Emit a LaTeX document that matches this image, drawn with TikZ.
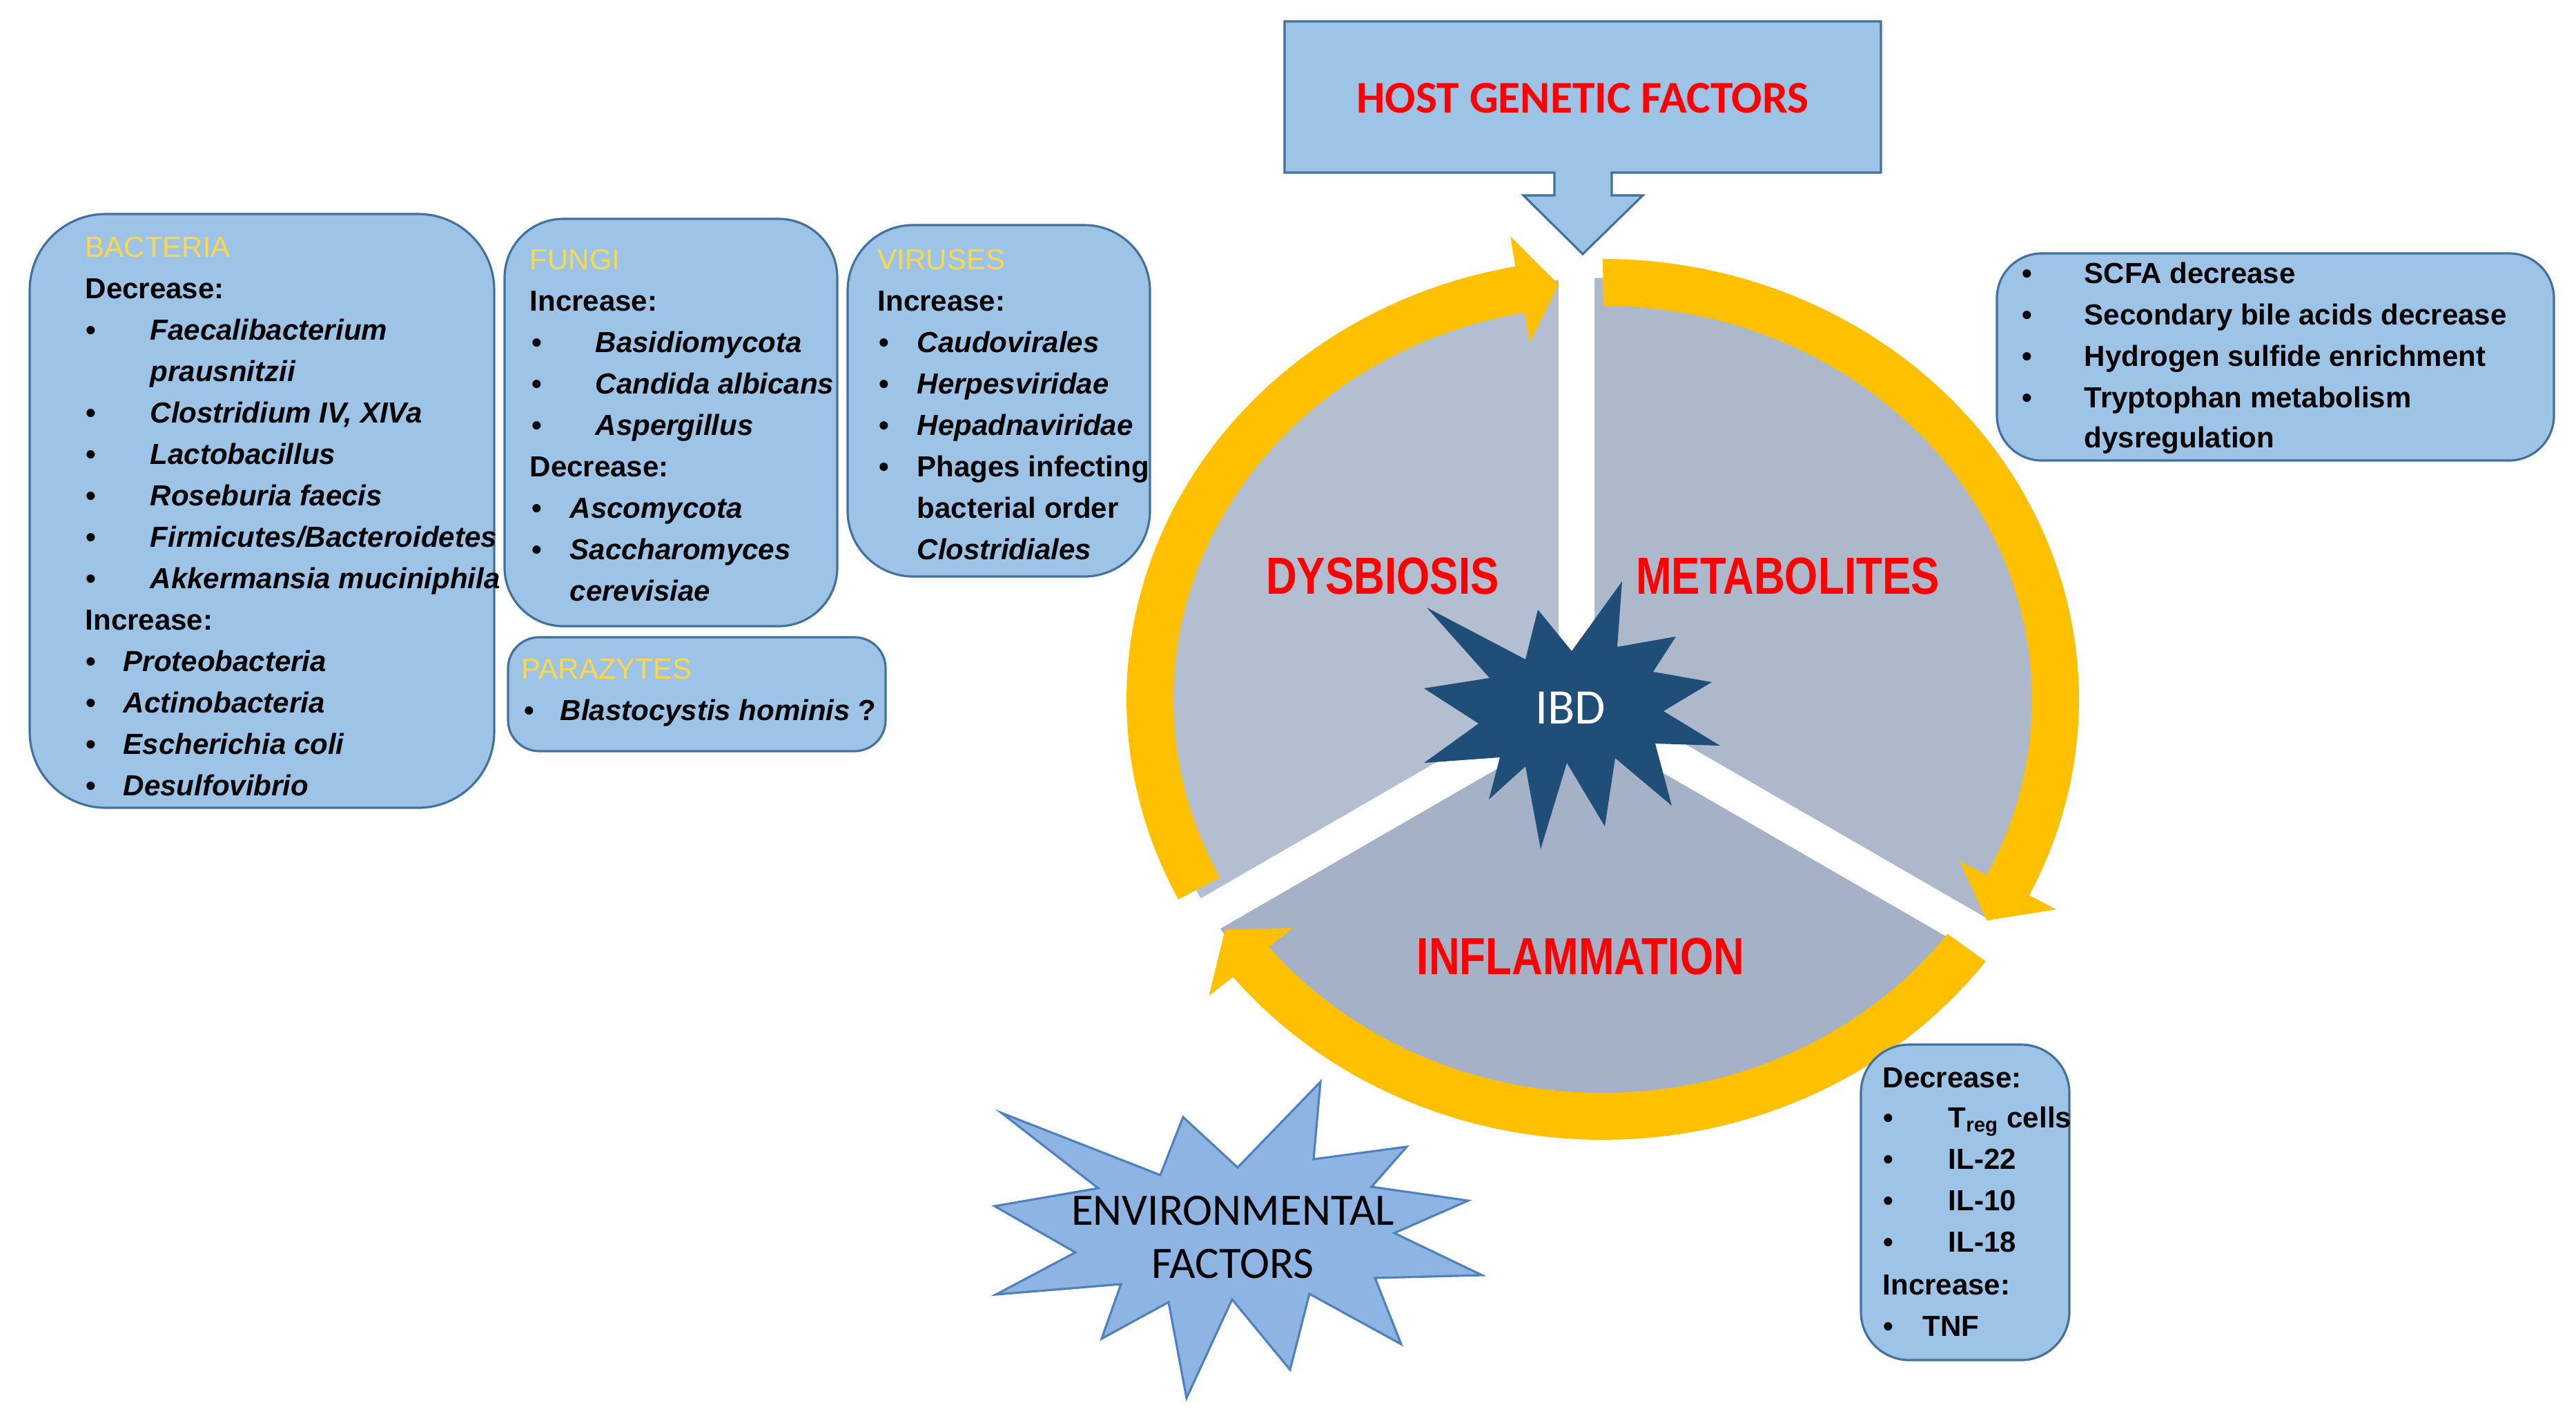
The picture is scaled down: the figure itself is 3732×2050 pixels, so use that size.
\documentclass[tikz,border=0pt]{standalone}
\usepackage{fontspec}
\setmainfont{Liberation Sans}
\newfontfamily\narrowf[FakeStretch=0.82]{Liberation Sans}
\newfontfamily\calib{Carlito}
\usetikzlibrary{fit}
\definecolor{boxfill}{HTML}{9DC3E6}
\definecolor{boxline}{HTML}{41719C}
\definecolor{headc}{HTML}{FFD84A}
\definecolor{redc}{HTML}{FF0000}
\definecolor{ringc}{HTML}{FFC000}
\definecolor{starc}{HTML}{1F4E79}
\definecolor{envfill}{HTML}{8DB4E2}
\definecolor{envline}{HTML}{4F81BD}
\definecolor{secA}{HTML}{B3BFD0}
\definecolor{secB}{HTML}{ADB9CB}
\definecolor{secC}{HTML}{A5B1C6}
\def\cx{2322}\def\cy{1013}
\def\rxo{690}\def\ryo{638}
\def\rxi{622}\def\ryi{570}
\def\rxm{656}\def\rym{604}
\newcommand\ringseg[3]{%
\fill[ringc] plot[domain=0:1,samples=60] ({\cx+\rxo*cos(#1+((#2)-(#1))*\x)},{\cy-\ryo*sin(#1+((#2)-(#1))*\x)})
 -- ({\cx+(\rxo+44)*cos(#2)},{\cy-(\ryo+44)*sin(#2)})
 -- ({\cx+\rxm*cos(#3)},{\cy-\rym*sin(#3)})
 -- ({\cx+(\rxi-44)*cos(#2)},{\cy-(\ryi-44)*sin(#2)})
 -- plot[domain=0:1,samples=60] ({\cx+\rxi*cos(#2+((#1)-(#2))*\x)},{\cy-\ryi*sin(#2+((#1)-(#2))*\x)})
 -- cycle;}
\tikzset{
 box/.style={draw=boxline, fill=boxfill, line width=0.9pt, inner sep=0pt},
 lbl/.style={inner sep=0pt, anchor=base west, font=\fontsize{11.95}{14}\selectfont\bfseries},
 itl/.style={inner sep=0pt, anchor=base west, font=\fontsize{11.95}{14}\selectfont\bfseries\itshape},
 head/.style={inner sep=0pt, anchor=base west, text=headc, font=\fontsize{11.95}{14}\selectfont},
 big/.style={inner sep=0pt, anchor=base, text=redc, font=\narrowf\bfseries\fontsize{21.5}{24}\selectfont},
}
\begin{document}
\begin{tikzpicture}[x=0.01cm,y=-0.01cm]
\useasboundingbox[fill=white] (0,0) rectangle (3732,2050);

% grey pie
\coordinate (P) at (2284,1017);
\begin{scope}
\clip (\cx,\cy) ellipse [x radius=6.6cm, y radius=6.1cm];
\fill[secA] (P) -- (2284,0) -- (1500,0) -- (1500,1470) -- cycle;
\fill[secB] (P) -- (2284,0) -- (3100,0) -- (3100,1488) -- cycle;
\fill[secC] (P) -- (1500,1470) -- (1500,1800) -- (3100,1800) -- (3100,1488) -- cycle;
\end{scope}
\coordinate (gT) at (2284,390);
\coordinate (gL) at ({2284-800*cos(30)},{1017+800*sin(30)});
\coordinate (gR) at ({2284+800*cos(30)},{1017+800*sin(30)});
\draw[white, line width=0.52cm] (P) -- (gT) (P) -- (gL) (P) -- (gR);

% yellow ring arrows
\ringseg{207}{100.5}{95.6}
\ringseg{90}{-26.5}{-32}
\ringseg{-36.5}{-141}{-146.5}

% IBD star
\fill[starc] (2067,880) -- (2210,955) -- (2228,883) -- (2277,943) -- (2350,842) -- (2343,937)
 -- (2428,922) -- (2395,973) -- (2480,988) -- (2410,1030) -- (2492,1080) -- (2398,1077)
 -- (2422,1167) -- (2340,1098) -- (2325,1197) -- (2270,1105) -- (2232,1230) -- (2210,1110)
 -- (2157,1158) -- (2173,1097) -- (2063,1105) -- (2142,1048) -- (2063,997) -- (2158,982) -- cycle;
\node[inner sep=0pt, anchor=base, text=white, font=\calib\fontsize{20.5}{24}\selectfont] (ibd) at (2275,1048) {IBD};

\node[big] (dys) at (2003,860) {DYSBIOSIS};
\node[big] (met) at (2590,860) {METABOLITES};
\node[big] (inf) at (2290,1411) {INFLAMMATION};

% host genetic factors
\filldraw[box] (1861,31) -- (2725,31) -- (2725,250) -- (2335,250) -- (2335,283) -- (2380,283)
 -- (2293,368) -- (2207,283) -- (2252,283) -- (2252,250) -- (1861,250) -- cycle;
\node[inner sep=0pt, anchor=base, text=redc, font=\calib\bfseries\fontsize{18.66}{22}\selectfont] (host) at (2293,163) {HOST GENETIC FACTORS};

% environmental factors
\filldraw[draw=envline, fill=envfill, line width=0.9pt] (1451,1612) -- (1681,1702) -- (1714,1618) -- (1793,1691)
 -- (1913,1567) -- (1903,1679) -- (2038,1661) -- (1987,1719) -- (2127,1739) -- (2020,1786)
 -- (2147,1847) -- (1992,1851) -- (2030,1947) -- (1897,1874) -- (1869,1984) -- (1785,1882)
 -- (1719,2025) -- (1693,1886) -- (1596,1939) -- (1624,1860) -- (1443,1875) -- (1558,1814)
 -- (1441,1747) -- (1591,1721) -- cycle;
\node[inner sep=0pt, anchor=base, font=\calib\fontsize{18.5}{22}\selectfont] (env1) at (1786,1774) {ENVIRONMENTAL};
\node[inner sep=0pt, anchor=base, font=\calib\fontsize{18.5}{22}\selectfont] (env2) at (1786,1851) {FACTORS};

% boxes
\node[box, rounded corners=1.1cm, fit={(43,310) (716,1170)}] (bact) {};
\node[box, rounded corners=0.85cm, fit={(731,317) (1213,907)}] (fungi) {};
\node[box, rounded corners=0.95cm, fit={(1228,326) (1666,835)}] (vir) {};
\node[box, rounded corners=0.45cm, fit={(736,923) (1283,1088)}] (para) {};
\node[box, rounded corners=0.65cm, fit={(2893,367) (3700,667)}] (metab) {};
\node[box, rounded corners=0.7cm, fit={(2696,1513) (2998,1970)}] (infl) {};

% bacteria text
\node[head] (bh) at (123,372) {BACTERIA};
\node[lbl] (bd) at (123,432) {Decrease:};
\foreach \yy [count=\i] in {492,612,672,732,792,852,972,1032,1092,1152}
  \node[lbl] (bbul\i) at (124,\yy) {\textbullet};
\node[itl] (b1) at (217,492) {Faecalibacterium};
\node[itl] (b2) at (217,552) {prausnitzii};
\node[itl] (b3) at (217,612) {Clostridium IV, XIVa};
\node[itl] (b4) at (217,672) {Lactobacillus};
\node[itl] (b5) at (217,732) {Roseburia faecis};
\node[itl] (b6) at (217,792) {Firmicutes/Bacteroidetes};
\node[itl] (b7) at (217,852) {Akkermansia muciniphila};
\node[lbl] (bi) at (123,912) {Increase:};
\node[itl] (b8) at (178,972) {Proteobacteria};
\node[itl] (b9) at (178,1032) {Actinobacteria};
\node[itl] (b10) at (178,1092) {Escherichia coli};
\node[itl] (b11) at (178,1152) {Desulfovibrio};

% fungi text
\node[head] (fh) at (767,390) {FUNGI};
\node[lbl] (fi) at (767,450) {Increase:};
\foreach \yy [count=\i] in {510,570,630,750,810}
  \node[lbl] (fbul\i) at (770,\yy) {\textbullet};
\node[itl] (f1) at (862,510) {Basidiomycota};
\node[itl] (f2) at (862,570) {Candida albicans};
\node[itl] (f3) at (862,630) {Aspergillus};
\node[lbl] (fd) at (767,690) {Decrease:};
\node[itl] (f4) at (825,750) {Ascomycota};
\node[itl] (f5) at (825,810) {Saccharomyces};
\node[itl] (f6) at (825,870) {cerevisiae};

% viruses text
\node[head] (vh) at (1271,390) {VIRUSES};
\node[lbl] (vi) at (1271,450) {Increase:};
\foreach \yy [count=\i] in {510,570,630,690}
  \node[lbl] (vbul\i) at (1273,\yy) {\textbullet};
\node[itl] (v1) at (1328,510) {Caudovirales};
\node[itl] (v2) at (1328,570) {Herpesviridae};
\node[itl] (v3) at (1328,630) {Hepadnaviridae};
\node[lbl] (v4) at (1328,690) {Phages infecting};
\node[lbl] (v5) at (1328,750) {bacterial order};
\node[itl] (v6) at (1328,810) {Clostridiales};

% parazytes text
\node[head] (ph) at (755,983) {PARAZYTES};
\node[lbl] (pbul) at (759,1043) {\textbullet};
\node[lbl] (p1) at (811,1043) {\itshape Blastocystis hominis\upshape\ ?};

% metabolites text
\foreach \yy [count=\i] in {410,470,530,590}
  \node[lbl] (mbul\i) at (2929,\yy) {\textbullet};
\node[lbl] (m1) at (3019,410) {SCFA decrease};
\node[lbl] (m2) at (3019,470) {Secondary bile acids decrease};
\node[lbl] (m3) at (3019,530) {Hydrogen sulfide enrichment};
\node[lbl] (m4) at (3019,590) {Tryptophan metabolism};
\node[lbl] (m5) at (3019,648) {dysregulation};

% inflammation text
\node[lbl] (id) at (2727,1575) {Decrease:};
\foreach \yy [count=\i] in {1633,1693,1753,1813,1935}
  \node[lbl] (ibul\i) at (2728,\yy) {\textbullet};
\node[lbl] (i1) at (2822,1633) {T\textsubscript{reg} cells};
\node[lbl] (i2) at (2822,1693) {IL-22};
\node[lbl] (i3) at (2822,1753) {IL-10};
\node[lbl] (i4) at (2822,1813) {IL-18};
\node[lbl] (ii) at (2727,1875) {Increase:};
\node[lbl] (i5) at (2785,1935) {TNF};
\end{tikzpicture}
\end{document}
